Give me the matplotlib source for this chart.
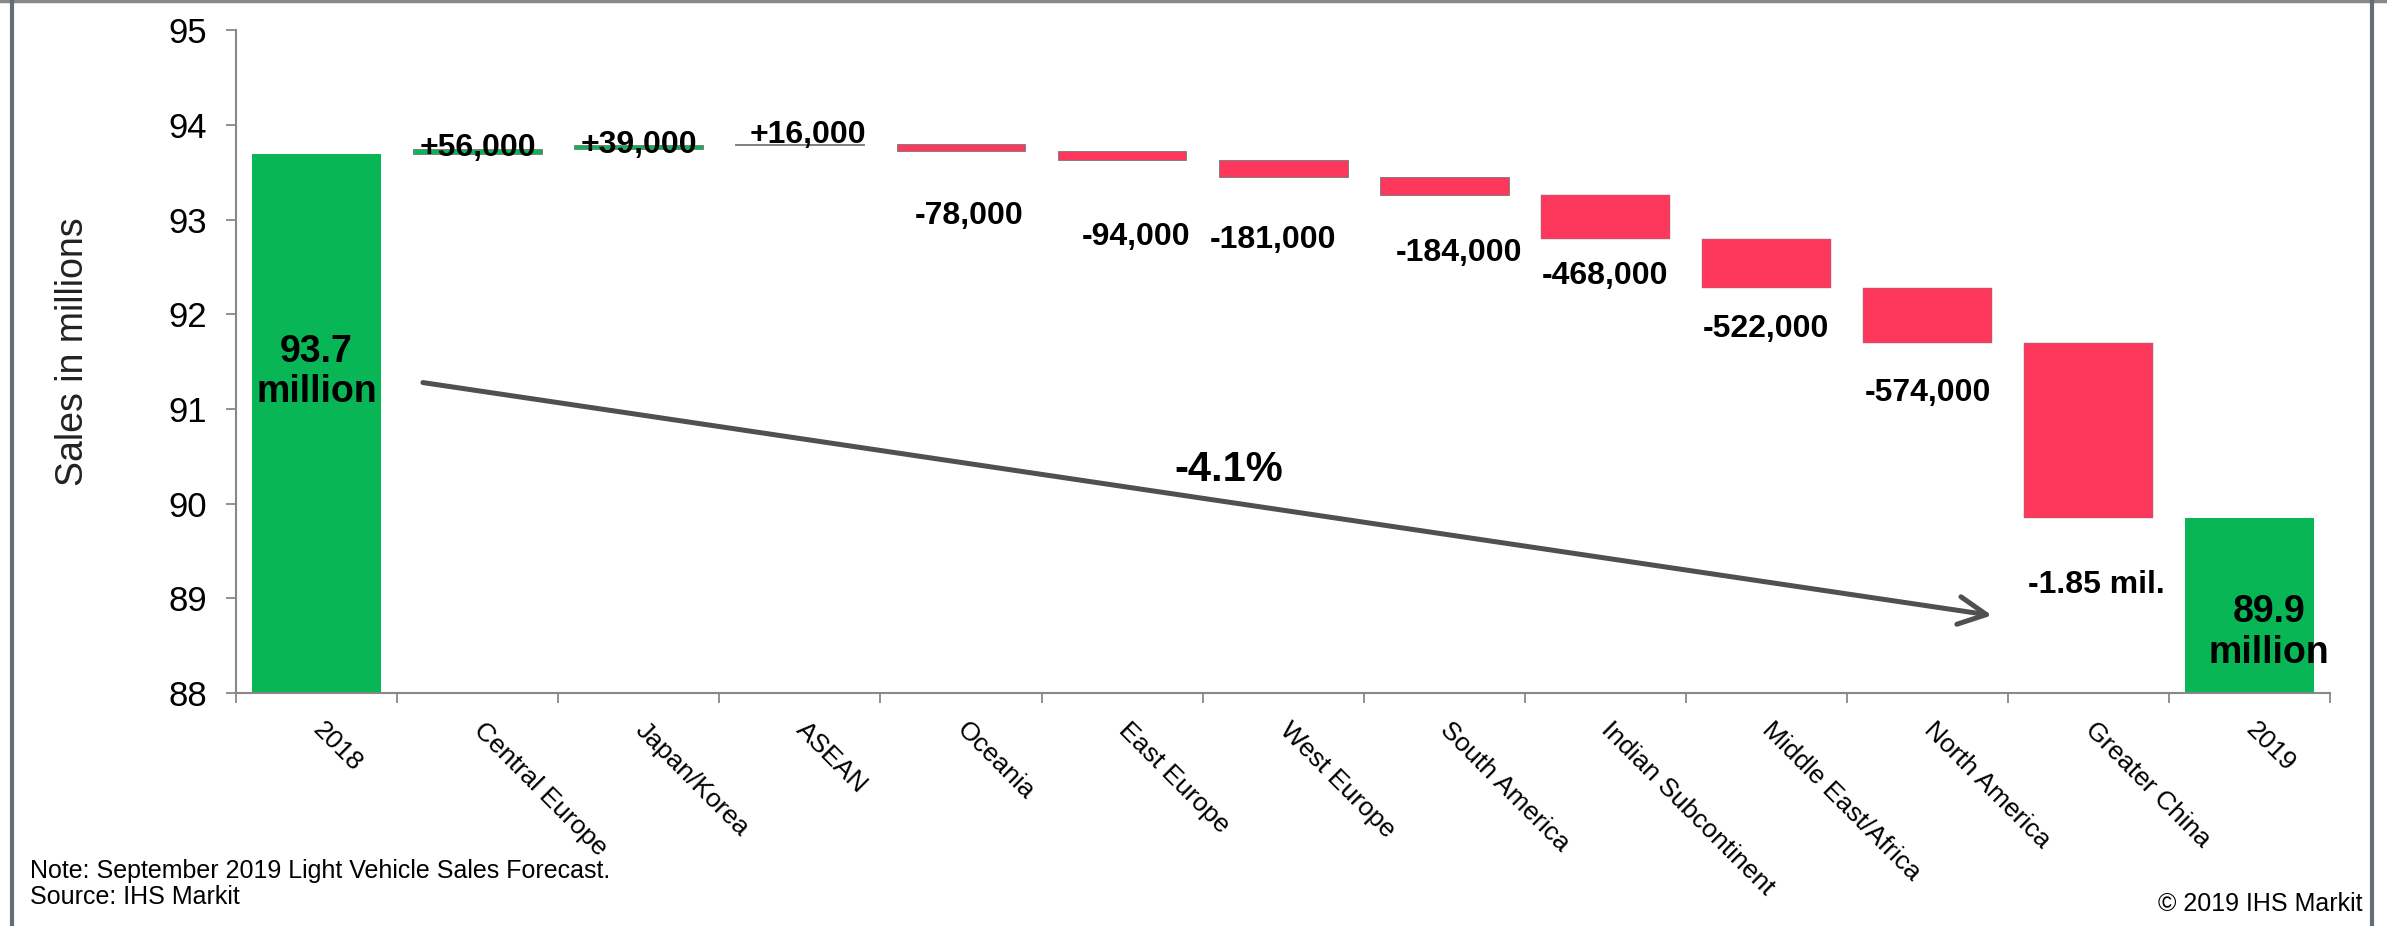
import numpy as np
import matplotlib
matplotlib.use("Agg")
import matplotlib.pyplot as plt
from matplotlib.lines import Line2D

plt.rcParams['font.family'] = ['Liberation Sans', 'DejaVu Sans']

categories = ["2018", "Central Europe", "Japan/Korea", "ASEAN", "Oceania", "East Europe",
              "West Europe", "South America", "Indian Subcontinent", "Middle East/Africa",
              "North America", "Greater China", "2019"]
start_total = 93.69
changes = [0.056, 0.039, 0.016, -0.078, -0.094, -0.181, -0.184,
           -0.468, -0.522, -0.574, -1.85]
change_labels = ["+56,000", "+39,000", "+16,000", "-78,000", "-94,000", "-181,000",
                 "-184,000", "-468,000", "-522,000", "-574,000", "-1.85 mil."]
total_labels = ["93.7\nmillion", "89.9\nmillion"]
growth_label = "-4.1%"

# hand placed label nudges (from the bar edge, in axis units)
label_dy = [0.014, 0.005, 0.09, -0.68, -0.81, -0.66, -0.61, -0.39, -0.43, -0.53, -0.71]
label_dx = [0, 0, 0.05, 0.05, 0.09, -0.06, 0.09, 0, 0, 0, 0.05]

green = "#08b655"
red = "#fe375c"
gray = "#888888"

fig = plt.figure(figsize=(23.87, 9.26), dpi=100)
ax = fig.add_axes([0.0989, 0.2516, 0.8773, 0.7155])

end_total = start_total + sum(changes)

ax.bar(0, start_total, width=0.8, color=green)
ax.bar(len(categories) - 1, end_total, width=0.8, color=green)

level = start_total
for i, ch in enumerate(changes):
    x = i + 1
    col = green if ch > 0 else red
    lw = 0.7 if abs(ch) < 0.3 else 0.3
    ax.bar(x, ch, bottom=level, width=0.8, color=col, edgecolor="#808080", linewidth=lw)
    new_level = level + ch
    ax.text(x + label_dx[i], new_level + label_dy[i], change_labels[i], ha="center",
            va="center", fontsize=23, fontweight="bold", zorder=5)
    level = new_level

ax.text(0, 91.39, total_labels[0], ha="center", va="center", fontsize=27,
        fontweight="bold", linespacing=1.15)
ax.text(len(categories) - 1 + 0.12, 88.64, total_labels[1], ha="center", va="center",
        fontsize=27, fontweight="bold", linespacing=1.15)

ax.annotate("", xy=(10.4, 88.82), xytext=(0.66, 91.28),
            arrowprops=dict(arrowstyle="->,head_length=2,head_width=1", color="#505050",
                            lw=3.6, shrinkA=0, shrinkB=0))
ax.text(5.66, 90.36, growth_label, ha="center", va="center", fontsize=30, fontweight="bold")

ax.set_xlim(-0.5, len(categories) - 0.5)
ax.set_ylim(88, 95)
ax.set_yticks(range(88, 96))
ax.tick_params(axis="y", length=7, width=1.3, color=gray, labelsize=25, pad=14)

ax.set_xticks(range(len(categories)))
ax.set_xticklabels(categories, rotation=-45, ha="left", va="center", rotation_mode="anchor")
ax.set_xticks(np.arange(-0.5, len(categories), 1), minor=True)
ax.tick_params(axis="x", which="major", length=0, labelsize=19, pad=24)
ax.tick_params(axis="x", which="minor", length=7, width=1.3, color=gray)

for s in ["top", "right"]:
    ax.spines[s].set_visible(False)
for s in ["left", "bottom"]:
    ax.spines[s].set_color(gray)
    ax.spines[s].set_linewidth(1.5)

ax.set_ylabel("Sales in millions", fontsize=27, color="#222222")
ax.yaxis.set_label_coords(-0.078, 0.515)
ax.yaxis.label.set_va("center")

fig.text(30 / 2387, 1 - 871 / 926, "Note: September 2019 Light Vehicle Sales Forecast.",
         fontsize=18, va="center")
fig.text(30 / 2387, 1 - 897 / 926, "Source: IHS Markit", fontsize=18, va="center")
fig.text(2363 / 2387, 1 - 904 / 926, "\u00a9 2019 IHS Markit", fontsize=18,
         va="center", ha="right")

# outer frame
fig.add_artist(Line2D([0, 1], [0.9985, 0.9985], transform=fig.transFigure,
                      color="#888888", lw=2.5))
fig.add_artist(Line2D([12 / 2387, 12 / 2387], [0, 1], transform=fig.transFigure,
                      color="#646e78", lw=3))
fig.add_artist(Line2D([2372 / 2387, 2372 / 2387], [0, 1], transform=fig.transFigure,
                      color="#646e78", lw=3))

fig.savefig("out.png", dpi=100)
